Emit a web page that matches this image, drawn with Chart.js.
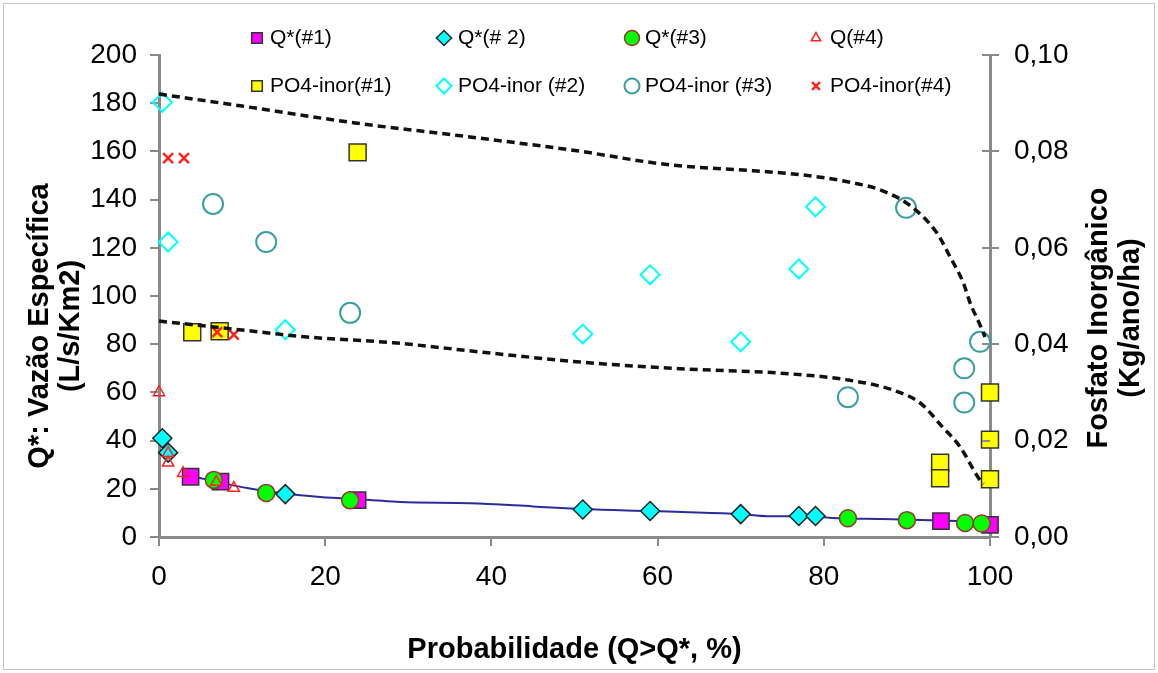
<html>
<head>
  <title>Vazão específica e fosfato inorgânico</title>
  <meta charset="UTF-8">
  <script src="https://cdn.jsdelivr.net/npm/chart.js@4"></script>
  <style>
    body { margin: 0; background: #fff; }
    #wrap { width: 1158px; height: 673px; }
  </style>
</head>
<body>
<div id="wrap"><canvas id="grafico"></canvas></div>
<script>
// Q* - vazão específica (L/s/Km2) x probabilidade (%)
const probQ1 = [3.8, 7.4, 23.9, 94.1, 100];
const vazaoQ1 = [25, 23, 15.3, 6.6, 5];
const probQ2 = [0.4, 1.1, 15.2, 51, 59.1, 70, 77, 79];
const vazaoQ2 = [41, 35, 17.8, 11.4, 10.8, 9.5, 8.7, 8.7];
const probQ3 = [6.6, 12.9, 23, 82.9, 90, 97, 99];
const vazaoQ3 = [23.7, 18.3, 15.2, 7.8, 7, 5.8, 5.6];
const probQ4 = [0, 1.1, 1.1, 2.9, 6.9, 9];
const vazaoQ4 = [60, 34.8, 30.8, 26.5, 22.8, 20.3];

// fosfato inorgânico (Kg/ano/ha)
const probP1 = [4, 7.3, 23.9, 94, 94, 100, 100, 100];
const fosfP1 = [0.0425, 0.0427, 0.0798, 0.0154, 0.0122, 0.0300, 0.0202, 0.0120];
const probP2 = [0.4, 1.1, 15.2, 51, 59.1, 70, 77, 79];
const fosfP2 = [0.0902, 0.0612, 0.0430, 0.0421, 0.0544, 0.0405, 0.0556, 0.0685];
const probP3 = [6.5, 12.9, 23, 82.9, 89.9, 96.9, 96.9, 98.8];
const fosfP3 = [0.0691, 0.0612, 0.0465, 0.0290, 0.0683, 0.0279, 0.0350, 0.0405];
const probP4 = [1.1, 3, 7, 9];
const fosfP4 = [0.0786, 0.0786, 0.0425, 0.0420];

// curva de permanência média (eixo esquerdo)
const probCurva = [3, 4.9, 7.5, 10.6, 14.6, 19.4, 25.4, 29, 37.4, 45, 51, 59, 63, 70, 73.2, 79, 81, 87, 94, 100];
const vazaoCurva = [25.5, 24.5, 22.5, 20.3, 18.3, 16.6, 15.4, 14.5, 14.0, 12.7, 11.6, 10.8, 10.4, 9.5, 8.6, 8.6, 7.9, 7.5, 6.8, 6.2];

// envoltórias do fosfato (eixo direito)
const probEnvSup = [0, 10, 23.6, 36, 49.6, 61.5, 71.5, 77.5, 83.5, 86.8, 90.2, 93.6, 95.2, 96.8, 97.6, 98.8, 99.4];
const fosfEnvSup = [0.0919, 0.0894, 0.0859, 0.0833, 0.0803, 0.0772, 0.0760, 0.0751, 0.0735, 0.0720, 0.0690, 0.0631, 0.0581, 0.0527, 0.0486, 0.0440, 0.0415];
const probEnvInf = [0, 9.7, 17.8, 28.2, 38.6, 50.7, 62.7, 74.7, 82.8, 88.3, 91.6, 94.3, 96.4, 98.6, 99.2];
const fosfEnvInf = [0.0448, 0.0430, 0.0415, 0.0403, 0.0384, 0.0363, 0.0349, 0.0340, 0.0326, 0.0305, 0.0278, 0.0228, 0.0187, 0.0123, 0.0110];

const ticksX = [0, 20, 40, 60, 80, 100];
const ticksQ = [0, 20, 40, 60, 80, 100, 120, 140, 160, 180, 200];
const ticksP = [0, 0.02, 0.04, 0.06, 0.08, 0.10];

const FONTE = "'Liberation Sans', Arial, Helvetica, sans-serif";

function pares(xs, ys) {
  return xs.map((x, i) => ({ x: x, y: ys[i] }));
}

function serie(label, xs, ys, eixo, estilo, fundo, borda, raio, larg, ordem) {
  return {
    label: label,
    data: pares(xs, ys),
    yAxisID: eixo,
    showLine: false,
    clip: false,
    pointStyle: estilo,
    backgroundColor: fundo,
    borderColor: borda,
    pointRadius: raio,
    pointHoverRadius: raio,
    pointBorderWidth: larg,
    order: ordem,
    noLegenda: false
  };
}

function linha(xs, ys, eixo, cor, larg, traco, ordem) {
  return {
    label: '',
    data: pares(xs, ys),
    yAxisID: eixo,
    showLine: true,
    clip: false,
    borderColor: cor,
    borderWidth: larg,
    borderDash: traco,
    pointRadius: 0,
    pointHoverRadius: 0,
    cubicInterpolationMode: 'monotone',
    fill: false,
    order: ordem,
    noLegenda: true
  };
}

const datasets = [
  linha(probCurva, vazaoCurva, 'y', '#2b2b9c', 2, [], 10),
  serie('Q*(#1)', probQ1, vazaoQ1, 'y', 'rect', '#ff00ff', '#333333', 11.5, 1.5, 0),
  serie('Q*(# 2)', probQ2, vazaoQ2, 'y', 'rectRot', '#00ffff', '#222222', 9.5, 1.5, -1),
  serie('Q*(#3)', probQ3, vazaoQ3, 'y', 'circle', '#00ff00', '#993333', 8.5, 1.5, -2),
  serie('Q(#4)', probQ4, vazaoQ4, 'y', 'triangle', 'rgba(0,0,0,0)', '#ff2020', 6.5, 1.5, -3),
  serie('PO4-inor(#1)', probP1, fosfP1, 'y1', 'rect', '#ffff00', '#333333', 12, 1.5, -4),
  serie('PO4-inor (#2)', probP2, fosfP2, 'y1', 'rectRot', 'rgba(0,0,0,0)', '#00ffff', 9.5, 2, -5),
  serie('PO4-inor (#3)', probP3, fosfP3, 'y1', 'circle', 'rgba(0,0,0,0)', '#3a9e9e', 10, 2, -6),
  serie('PO4-inor(#4)', probP4, fosfP4, 'y1', 'crossRot', '#ff2020', '#ff2020', 7, 2.5, -7),
  linha(probEnvSup, fosfEnvSup, 'y1', '#111111', 3.5, [8, 5], -20),
  linha(probEnvInf, fosfEnvInf, 'y1', '#111111', 3.5, [8, 5], -21)
];

// legenda em duas linhas e quatro colunas
const legColX = [257, 444, 632, 816];
const legTextoX = [270, 458, 645, 830];
const legLinhaY = [38, 86];

const pluginDesenho = {
  id: 'desenho',
  beforeDraw(chart) {
    const ctx = chart.ctx;
    ctx.save();
    ctx.fillStyle = '#ffffff';
    ctx.fillRect(0, 0, chart.width, chart.height);
    ctx.restore();
  },
  afterDraw(chart) {
    const ctx = chart.ctx;
    const area = chart.chartArea;
    ctx.save();

    // parte interna dos traços do eixo direito
    const y1 = chart.scales.y1;
    ctx.strokeStyle = '#8a8a8a';
    ctx.lineWidth = 2;
    ticksP.forEach(v => {
      const py = Math.round(y1.getPixelForValue(v));
      ctx.beginPath();
      ctx.moveTo(area.right - 8, py);
      ctx.lineTo(area.right, py);
      ctx.stroke();
    });

    // legenda
    let k = 0;
    chart.data.datasets.forEach(ds => {
      if (ds.noLegenda) return;
      const col = k % 4, lin = Math.floor(k / 4);
      const px = legColX[col], py = legLinhaY[lin];
      const r = ds.pointStyle === 'crossRot' ? 5.5 : (ds.pointStyle === 'triangle' ? 5.5 : 7.5);
      ctx.fillStyle = ds.backgroundColor;
      ctx.strokeStyle = ds.borderColor;
      ctx.lineWidth = ds.pointBorderWidth;
      Chart.helpers.drawPoint(ctx, { pointStyle: ds.pointStyle, radius: r, borderWidth: ds.pointBorderWidth }, px, py);
      ctx.fillStyle = '#000';
      ctx.font = '21px ' + FONTE;
      ctx.textAlign = 'left';
      ctx.textBaseline = 'middle';
      ctx.fillText(ds.label, legTextoX[col], py);
      k++;
    });

    // títulos dos eixos
    ctx.fillStyle = '#000';
    ctx.font = 'bold 29px ' + FONTE;
    ctx.textAlign = 'center';
    ctx.textBaseline = 'middle';
    ctx.fillText('Probabilidade (Q>Q*, %)', (area.left + area.right) / 2, 650);

    const vertical = (txt, x, y) => {
      ctx.save();
      ctx.translate(x, y);
      ctx.rotate(-Math.PI / 2);
      ctx.fillText(txt, 0, 0);
      ctx.restore();
    };
    vertical('Q*: Vazão Específica', 40, 326);
    vertical('(L/s/Km2)', 71, 326);
    vertical('Fosfato Inorgânico', 1099, 318);
    vertical('(Kg/ano/ha)', 1131, 318);

    // moldura
    ctx.strokeStyle = '#c4c4c4';
    ctx.lineWidth = 1;
    ctx.strokeRect(3.5, 3.5, chart.width - 7, chart.height - 7);
    ctx.restore();
  }
};

function eixoBase(extra) {
  return Object.assign({
    grid: { display: true, drawOnChartArea: false, drawTicks: true, tickLength: 9, color: '#8a8a8a', lineWidth: 2 },
    border: { display: true, color: '#8a8a8a', width: 3 },
    title: { display: false }
  }, extra);
}

new Chart(document.getElementById('grafico'), {
  type: 'scatter',
  data: { datasets: datasets },
  options: {
    responsive: true,
    maintainAspectRatio: false,
    animation: false,
    events: [],
    layout: { padding: { top: 55, left: 0, right: 0, bottom: 0 } },
    plugins: {
      legend: { display: false },
      tooltip: { enabled: false }
    },
    scales: {
      x: eixoBase({
        type: 'linear',
        min: 0, max: 100,
        afterBuildTicks: s => { s.ticks = ticksX.map(v => ({ value: v })); },
        afterFit: s => { s.height = 136; },
        ticks: { color: '#000', font: { family: FONTE, size: 28 }, padding: 14, maxRotation: 0 }
      }),
      y: eixoBase({
        type: 'linear',
        position: 'left',
        min: 0, max: 200,
        afterBuildTicks: s => { s.ticks = ticksQ.map(v => ({ value: v })); },
        afterFit: s => { s.width = 159; },
        ticks: { color: '#000', font: { family: FONTE, size: 28 }, padding: 13 }
      }),
      y1: eixoBase({
        type: 'linear',
        position: 'right',
        min: 0, max: 0.1,
        afterBuildTicks: s => { s.ticks = ticksP.map(v => ({ value: v })); },
        afterFit: s => { s.width = 168; },
        ticks: {
          color: '#000', font: { family: FONTE, size: 28 }, padding: 15,
          callback: v => v.toFixed(2).replace('.', ',')
        }
      })
    }
  },
  plugins: [pluginDesenho]
});
</script>
</body>
</html>
